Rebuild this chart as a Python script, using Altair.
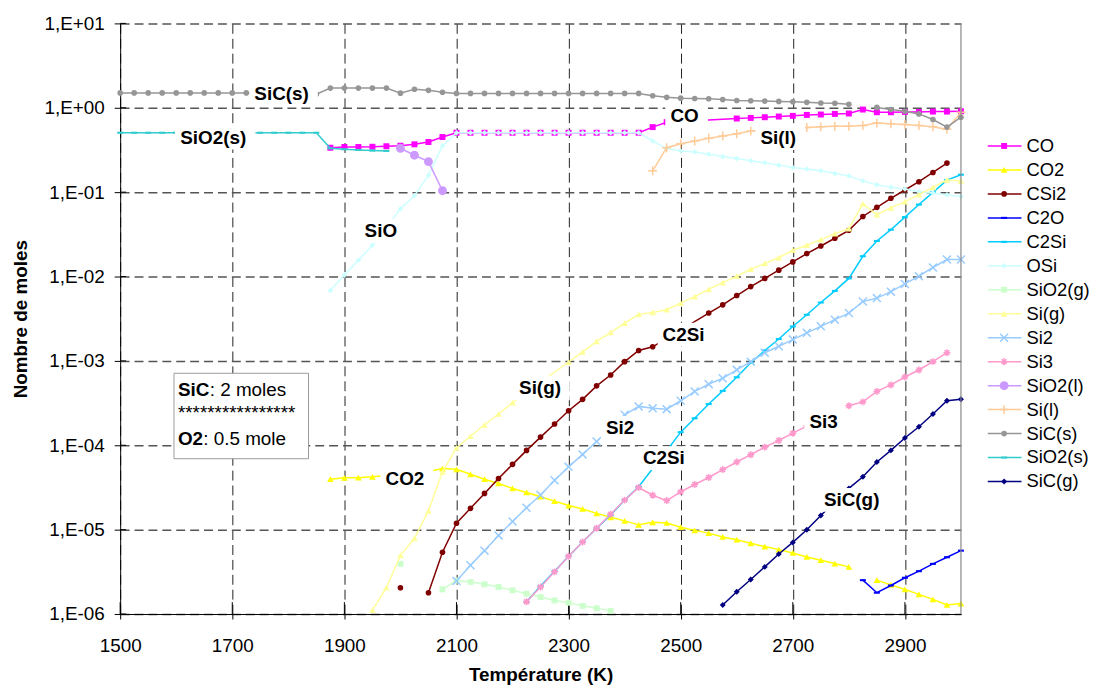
import altair as alt
import pandas as pd

FONT = "Liberation Sans"


def seq(a, b):
    return list(range(a, b + 1, 25))


# ---------------- data (temperature K, moles); None = no value (line break) -------------
T_CO = seq(1875, 2475) + seq(2600, 3000)
V_CO = [0.336, 0.343, 0.343, 0.345, 0.35, 0.355, 0.369, 0.393, 0.45] + [0.506] * 14 + [0.59, 0.675] + \
       [0.746, 0.759, 0.773, 0.787, 0.802, 0.823, 0.832, 0.846, 0.855, 0.953, 0.885, 0.885, 0.893, 0.893,
        0.901, 0.901, 0.91]

T_CO2 = seq(1875, 1950) + seq(2050, 3000)
V_CO2 = [3.96e-5, 4.11e-5, 4.13e-5, 4.23e-5,
         4.9e-5, 5.3e-5, 5.19e-5, 4.53e-5, 3.96e-5, 3.53e-5, 3.08e-5, 2.76e-5, 2.46e-5, 2.18e-5, 1.93e-5,
         1.76e-5, 1.56e-5, 1.40e-5, 1.27e-5, 1.14e-5, 1.22e-5, 1.2e-5, 1.07e-5, 9.8e-6, 9.1e-6, 8.2e-6,
         7.6e-6, 6.9e-6, 6.3e-6, 5.8e-6, 5.3e-6, 4.75e-6, 4.34e-6, 3.96e-6, 3.62e-6, None,
         2.52e-6, 2.21e-6, 1.96e-6, 1.71e-6, 1.49e-6, 1.28e-6, 1.33e-6]

T_CSI2 = seq(2000, 2450) + seq(2550, 2975)
V_CSI2 = [2.05e-6, None, 1.79e-6, 5.4e-6, 1.19e-5, 1.79e-5, 2.69e-5, 4.04e-5, 5.94e-5, 8.7e-5, 1.25e-4,
          1.79e-4, 2.57e-4, 3.5e-4, 5.06e-4, 6.8e-4, 9.8e-4, 1.33e-3, 1.47e-3,
          3.69e-3, 4.62e-3, 5.95e-3, 7.6e-3, 9.5e-3, 0.0119, 0.0149, 0.0187, 0.023, 0.0284, 0.0353,
          0.0515, 0.066, 0.0846, 0.106, 0.133, 0.171, 0.221]

T_C2O = seq(2825, 3000)
V_C2O = [2.52e-6, 1.79e-6, 2.18e-6, 2.69e-6, 3.22e-6, 3.93e-6, 4.71e-6, 5.64e-6]

T_C2SI = seq(2225, 3000)
V_C2SI = [1.40e-6, 2.15e-6, 3.22e-6, 4.84e-6, 7.13e-6, 1.04e-5, 1.49e-5, 2.24e-5, 3.22e-5, 5.3e-5,
          8.6e-5, 1.43e-4, 2.09e-4, 3.08e-4, 4.41e-4, 6.4e-4, 9.5e-4, 1.33e-3, 1.82e-3, 2.56e-3,
          3.52e-3, 4.92e-3, 6.75e-3, 9.5e-3, 0.0174, 0.0264, 0.0359, 0.0506, 0.0713, 0.0995, 0.139, 0.161]

T_OSI = seq(1875, 3000)
V_OSI = [0.00681, 0.0104, 0.0156, 0.0235, 0.0382, 0.0634, 0.091, 0.159, 0.352] + [0.506] * 14 + \
        [0.404, 0.331, 0.308, 0.299, 0.281, 0.264, 0.25, 0.235, 0.223, 0.209, 0.196, 0.188, 0.179,
         0.166, 0.156, 0.136, 0.122, 0.114, 0.109, 0.101, 0.098, 0.0927, 0.0886]

T_SIO2G = seq(2000, 2375)
V_SIO2G = [3.93e-6, None, None, 1.96e-6, 2.5e-6, 2.4e-6, 2.25e-6, 2.09e-6, 1.91e-6, 1.74e-6, 1.59e-6,
           1.45e-6, 1.36e-6, 1.25e-6, 1.17e-6, 1.09e-6]

T_SIG = seq(1950, 2200) + seq(2300, 3000)
V_SIG = [1.11e-6, 2.05e-6, 4.97e-6, 7.9e-6, 1.67e-5, 4.84e-5, 9.3e-5, 1.28e-4, 1.75e-4, 2.35e-4, 3.2e-4,
         9.7e-4, 1.28e-3, 1.70e-3, 2.18e-3, 2.81e-3, 3.56e-3, 3.75e-3, 4.04e-3, 4.84e-3, 5.78e-3,
         7.06e-3, 8.45e-3, 0.0101, 0.0122, 0.0143, 0.0168, 0.0205, 0.0235, 0.0274, 0.0322, 0.0369,
         0.0726, 0.0543, 0.0652, 0.0773, 0.0935, 0.114, 0.140, 0.136]

T_SI2 = seq(2100, 2350) + seq(2400, 3000)
V_SI2 = [2.46e-6, 3.79e-6, 5.64e-6, 8.55e-6, 1.25e-5, 1.82e-5, 2.57e-5, 3.85e-5, 5.55e-5, 7.8e-5, 1.11e-4,
         2.3e-4, 2.89e-4, 2.74e-4, 2.68e-4, 3.37e-4, 4.35e-4, 5.3e-4, 6.22e-4, 7.83e-4, 9.8e-4, 1.25e-3,
         1.49e-3, 1.79e-3, 2.15e-3, 2.57e-3, 3.08e-3, 3.69e-3, 5.06e-3, 5.55e-3, 6.62e-3, 8.17e-3,
         0.0101, 0.0128, 0.0159, 0.0159]

T_SI3 = seq(2225, 2750) + seq(2800, 2975)
V_SI3 = [1.40e-6, 2.09e-6, 3.16e-6, 4.84e-6, 7.13e-6, 1.04e-5, 1.52e-5, 2.24e-5, 3.16e-5, 2.56e-5,
         2.21e-5, 2.81e-5, 3.43e-5, 4.15e-5, 5.15e-5, 6.34e-5, 7.73e-5, 9.5e-5, 1.14e-4, 1.39e-4,
         1.69e-4, None,
         2.94e-4, 3.27e-4, 4.35e-4, 5.19e-4, 6.44e-4, 7.8e-4, 9.8e-4, 1.25e-3]

T_SIO2L = seq(2000, 2075)
V_SIO2L = [0.331, 0.274, 0.23, 0.104]

T_SIL = seq(2450, 2625) + seq(2725, 3000)
V_SIL = [0.179, 0.336, 0.375, 0.404, 0.435, 0.462, 0.492, 0.53,
         0.585, 0.594, 0.605, 0.605, 0.618, 0.658, 0.645, 0.634, 0.618, 0.594, 0.555, 0.885]

T_SICS = seq(1500, 1725) + [1850] + seq(1875, 3000)
V_SICS = [1.5] * 10 + [1.45] + [1.71, 1.71, 1.71, 1.71, 1.71, 1.49, 1.66, 1.61, 1.53] + [1.48] * 14 + \
         [1.39, 1.33, 1.30, 1.29, 1.28, 1.25, 1.22, 1.21, 1.20, 1.19, 1.18, 1.16, 1.14, 1.13, 1.10, None,
          1.01, 0.953, 0.91, 0.846, 0.726, 0.59, 0.773]

T_SIO2S = seq(1500, 1975)
V_SIO2S = [0.506] * 15 + [0.331, 0.322, 0.316, 0.311, 0.308]

T_SICG = seq(2575, 3000)
V_SICG = [1.28e-6, 1.84e-6, 2.57e-6, 3.62e-6, 5.15e-6, 7.06e-6, 9.95e-6, 1.47e-5, 2.16e-5, 3.08e-5,
          4.23e-5, 6.34e-5, 8.7e-5, 1.22e-4, 1.66e-4, 2.35e-4, 3.37e-4, 3.52e-4]

NAMES = ["CO", "CO2", "CSi2", "C2O", "C2Si", "OSi", "SiO2(g)", "Si(g)", "Si2", "Si3",
         "SiO2(l)", "Si(l)", "SiC(s)", "SiO2(s)", "SiC(g)"]
T_ALL = [T_CO, T_CO2, T_CSI2, T_C2O, T_C2SI, T_OSI, T_SIO2G, T_SIG, T_SI2, T_SI3,
         T_SIO2L, T_SIL, T_SICS, T_SIO2S, T_SICG]
V_ALL = [V_CO, V_CO2, V_CSI2, V_C2O, V_C2SI, V_OSI, V_SIO2G, V_SIG, V_SI2, V_SI3,
         V_SIO2L, V_SIL, V_SICS, V_SIO2S, V_SICG]

# in-plot labels
LABEL_TEXT = ["SiC(s)", "SiO2(s)", "CO", "Si(l)", "SiO", "Si(g)", "C2Si", "Si2", "C2Si", "Si3", "SiC(g)", "CO2"]
LABEL_T = [1788, 1666, 2507, 2674, 1965, 2249, 2505, 2392, 2470, 2755, 2805, 2008]
LABEL_V = [1.46, 0.443, 0.794, 0.438, 0.0348, 4.74e-4, 2.05e-3, 1.61e-4, 7.03e-5, 1.87e-4, 2.25e-5, 3.98e-5]

# annotation box
NOTE_BOX_T = [1596, 1836]
NOTE_BOX_V = [7.13e-4, 6.93e-5]
NOTE_T = 1603
NOTE_V = [3.86e-4, 2.05e-4, 1.01e-4]

X_TICKS = [1500, 1700, 1900, 2100, 2300, 2500, 2700, 2900]
Y_TICKS = [1e-6, 1e-5, 1e-4, 1e-3, 1e-2, 1e-1, 1, 10]

# ---------------- styles -------------
COLORS = ["#FF00FF", "#FFFF00", "#800000", "#0000FF", "#00CCFF", "#CCFFFF", "#CCFFCC", "#FFFF99",
          "#99CCFF", "#FF99CC", "#CC99FF", "#FFCC99", "#969696", "#33CCCC", "#000080"]
DASH = "M-1,-0.35L1,-0.35L1,0.35L-1,0.35Z"
XMARK = "M-1,-1L1,1M-1,1L1,-1"
ASTER = "M-1,0L1,0M0,-1L0,1M-0.7,-0.7L0.7,0.7M-0.7,0.7L0.7,-0.7"
PLUS = "M-1,0L1,0M0,-1L0,1"
MARKERS = [
    dict(shape="square", size=36, filled=True),
    dict(shape="triangle-up", size=45, filled=True),
    dict(shape="circle", size=32, filled=True),
    dict(shape=DASH, size=36, filled=True),
    dict(shape=DASH, size=36, filled=True),
    dict(shape="diamond", size=32, filled=True),
    dict(shape="square", size=36, filled=True),
    dict(shape="triangle-up", size=45, filled=True),
    dict(shape=XMARK, size=64, filled=False),
    dict(shape=ASTER, size=49, filled=False),
    dict(shape="circle", size=80, filled=True),
    dict(shape=PLUS, size=81, filled=False),
    dict(shape="circle", size=32, filled=True),
    dict(shape=DASH, size=36, filled=True),
    dict(shape="diamond", size=36, filled=True),
]
LABEL_BOX_W = [55, 67, 29, 36, 33, 42, 42, 29, 42, 29, 56, 39]
PLOT_W, PLOT_H = 847, 595


def point_kw(mk, color):
    if mk["filled"]:
        return dict(shape=mk["shape"], size=mk["size"], filled=True, color=color, opacity=1, strokeWidth=0)
    return dict(shape=mk["shape"], size=mk["size"], filled=False, color=color, opacity=1, strokeWidth=1.5)


x_scale = alt.Scale(domain=[1500, 3000], nice=False, zero=False)
y_scale = alt.Scale(type="log", domain=[1e-6, 10], nice=False)
x_axis = alt.Axis(values=X_TICKS, format="d", grid=True, gridColor="#222222", gridDash=[10, 5],
                  gridWidth=1, domainColor="black", tickColor="black", tickSize=5, labelFontSize=19,
                  labelFont=FONT, labelColor="black", labelPadding=18, labelFlush=False,
                  labelOverlap=False, title="Température (K)", titleFont=FONT, titleFontSize=19,
                  titleFontWeight="bold", titleColor="black", titlePadding=10)
y_axis = alt.Axis(values=Y_TICKS, grid=True, gridColor="#555555", gridDash=[9, 5], gridWidth=1.5,
                  domainColor="black", tickColor="black", tickSize=6, labelFontSize=19, labelFont=FONT,
                  labelColor="black", labelPadding=10, labelFlush=False, labelOverlap=False,
                  labelExpr="'1,E' + (round(log(datum.value)/LN10) < 0 ? '-' : '+') + '0' + "
                            "abs(round(log(datum.value)/LN10))",
                  title="Nombre de moles", titleFont=FONT, titleFontSize=19, titleFontWeight="bold",
                  titleColor="black", titlePadding=14)
X = alt.X("T:Q", scale=x_scale, axis=x_axis)
Y = alt.Y("v:Q", scale=y_scale, axis=y_axis)

layers = []

# inner halves of the crossing tick marks
layers.append(alt.Chart(pd.DataFrame({"T": X_TICKS})).mark_rule(color="black", strokeWidth=1)
              .encode(x=X, y=alt.value(PLOT_H - 12), y2=alt.value(PLOT_H)))
layers.append(alt.Chart(pd.DataFrame({"v": Y_TICKS})).mark_rule(color="black", strokeWidth=1)
              .encode(y=Y, x=alt.value(0), x2=alt.value(6)))

for name, T, V, color, mk in zip(NAMES, T_ALL, V_ALL, COLORS, MARKERS):
    rows, seg = [], 0
    for t, v in zip(T, V):
        if v is None:
            seg += 1
            continue
        rows.append({"T": t, "v": v, "seg": seg})
    df = pd.DataFrame(rows)
    base = alt.Chart(df).encode(x=X, y=Y)
    layers.append(base.mark_line(color=color, strokeWidth=1.5).encode(detail="seg:N"))
    layers.append(base.mark_point(**point_kw(mk, color)))

# right border
layers.append(alt.Chart(pd.DataFrame({"T": [3000]})).mark_rule(color="#888888", strokeWidth=1.2).encode(x=X))

# label boxes + label text
for txt, t, v, w in zip(LABEL_TEXT, LABEL_T, LABEL_V, LABEL_BOX_W):
    d = pd.DataFrame({"T": [t], "v": [v], "label": [txt]})
    layers.append(alt.Chart(d).mark_rect(color="white", xOffset=-w / 2 - 5, x2Offset=w / 2 + 9,
                                         yOffset=-12, y2Offset=12)
                  .encode(x=X, x2="T:Q", y=Y, y2="v:Q"))
lab_df = pd.DataFrame({"T": LABEL_T, "v": LABEL_V, "label": LABEL_TEXT})
layers.append(alt.Chart(lab_df).mark_text(font=FONT, fontSize=19, fontWeight="bold", color="black",
                                          align="center", baseline="middle")
              .encode(x=X, y=Y, text="label:N"))

# annotation box
nb = pd.DataFrame({"T": [NOTE_BOX_T[0]], "T2": [NOTE_BOX_T[1]], "v": [NOTE_BOX_V[0]], "v2": [NOTE_BOX_V[1]]})
layers.append(alt.Chart(nb).mark_rect(fill="white", stroke="#9a9a9a", strokeWidth=1)
              .encode(x=X, x2="T2:Q", y=Y, y2="v2:Q"))
note_pieces = [("SiC", 0, "bold", 0), (": 2 moles", 0, "normal", 32),
               ("****************", 1, "normal", 0), ("O2", 2, "bold", 0), (": 0.5 mole", 2, "normal", 25.5)]
for txt, li, wt, dx in note_pieces:
    d = pd.DataFrame({"T": [NOTE_T], "v": [NOTE_V[li]], "txt": [txt]})
    layers.append(alt.Chart(d).mark_text(font=FONT, fontSize=19, fontWeight=wt, color="black", align="left",
                                         baseline="alphabetic", dx=dx)
                  .encode(x=X, y=Y, text="txt:N"))

main = alt.layer(*layers).properties(width=PLOT_W, height=PLOT_H)

# ---------------- legend -------------
y_leg = alt.Y("name:N", sort=NAMES, axis=None,
              scale=alt.Scale(domain=NAMES, type="point", range=[123.5, 461.5], padding=0))
leg_layers = []
for name, color, mk in zip(NAMES, COLORS, MARKERS):
    d = pd.DataFrame({"name": [name]})
    c = alt.Chart(d)
    leg_layers.append(c.mark_rule(color=color, strokeWidth=1.5).encode(x=alt.value(7), x2=alt.value(41), y=y_leg))
    leg_layers.append(c.mark_point(**point_kw(mk, color)).encode(x=alt.value(23.5), y=y_leg))
    leg_layers.append(c.mark_text(font=FONT, fontSize=18.5, color="black", align="left", baseline="middle")
                      .encode(x=alt.value(46), y=y_leg, text="name:N"))
legend = alt.layer(*leg_layers).properties(width=100, height=PLOT_H)

chart = alt.hconcat(main, legend, spacing=20, bounds="flush").properties(
    padding={"left": 3, "top": 4, "right": 0, "bottom": 0}
).configure_view(stroke=None)

chart.save("out.html", embed_options={"renderer": "svg", "actions": False})
